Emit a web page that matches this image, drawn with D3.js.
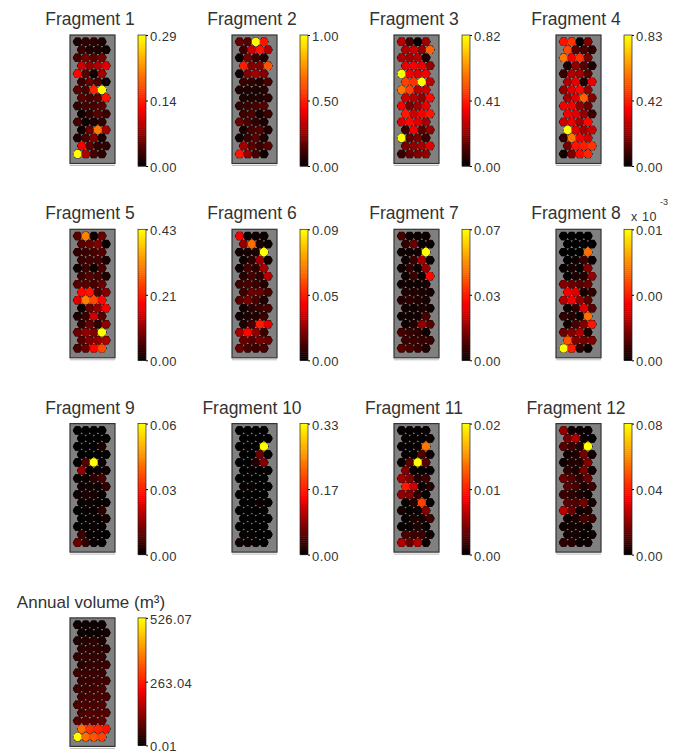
<!DOCTYPE html>
<html>
<head>
<meta charset="utf-8">
<script src="https://cdn.jsdelivr.net/npm/d3@7"></script>
<style>
  html, body { margin: 0; padding: 0; background: #fff; }
  svg { display: block; }
  text { font-family: "Liberation Sans", Arial, sans-serif; fill: #333; }
  .title { font-size: 17.5px; text-anchor: middle; }
  .axis text { font-size: 13px; letter-spacing: 0.4px; fill: #333; }
</style>
</head>
<body>
<div id="chart"></div>
<script>
// values are % of each panel's colour bar, 4 cells per row, 15 rows top to bottom
var titles = ['Fragment 1', 'Fragment 2', 'Fragment 3', 'Fragment 4', 'Fragment 5', 'Fragment 6', 'Fragment 7',
  'Fragment 8', 'Fragment 9', 'Fragment 10', 'Fragment 11', 'Fragment 12', 'Annual volume (m\u00b3)'];

var tickLabels = [
  ['0.00', '0.14', '0.29'], ['0.00', '0.50', '1.00'], ['0.00', '0.41', '0.82'], ['0.00', '0.42', '0.83'],
  ['0.00', '0.21', '0.43'], ['0.00', '0.05', '0.09'], ['0.00', '0.03', '0.07'], ['0.00', '0.00', '0.01'],
  ['0.00', '0.03', '0.06'], ['0.00', '0.17', '0.33'], ['0.00', '0.01', '0.02'], ['0.00', '0.04', '0.08'],
  ['0.01', '263.04', '526.07']
];

var fragment1 = [5, 8, 8, 5, 10, 5, 5, 3, 12, 20, 15, 20, 35, 25, 30, 38, 45, 15, 3, 28,
  10, 18, 12, 2, 15, 12, 52, 100, 15, 12, 15, 48, 8, 12, 12, 15, 3, 8, 15, 10,
  12, 3, 5, 8, 3, 18, 70, 28, 5, 12, 22, 5, 42, 15, 8, 8, 100, 30, 12, 8];
var fragment2 = [18, 15, 100, 48, 10, 35, 48, 30, 2, 20, 10, 6, 50, 22, 22, 62, 3, 22, 28, 22,
  10, 8, 6, 12, 5, 6, 5, 7, 5, 5, 6, 7, 8, 10, 12, 15, 10, 13, 4, 10,
  18, 13, 8, 5, 4, 12, 14, 5, 3, 10, 15, 5, 28, 15, 10, 15, 48, 25, 12, 3];
var fragment3 = [32, 12, 0, 28, 30, 35, 25, 65, 30, 28, 32, 5, 40, 42, 40, 25, 100, 42, 38, 42,
  58, 55, 100, 32, 70, 58, 32, 35, 35, 30, 25, 45, 42, 20, 28, 40, 50, 35, 42, 48,
  38, 45, 38, 28, 10, 42, 15, 25, 100, 15, 20, 10, 20, 25, 28, 38, 10, 18, 22, 25];
var fragment4 = [48, 55, 0, 22, 60, 15, 12, 8, 70, 42, 55, 20, 5, 25, 15, 5, 10, 30, 28, 15,
  30, 40, 5, 40, 25, 38, 45, 25, 28, 38, 65, 22, 42, 42, 25, 18, 42, 38, 25, 10,
  35, 40, 28, 45, 100, 38, 28, 35, 8, 70, 42, 35, 20, 48, 50, 55, 3, 22, 45, 52];
var fragment5 = [15, 72, 2, 18, 15, 18, 22, 2, 8, 10, 12, 15, 10, 12, 12, 5, 2, 10, 3, 12,
  10, 15, 12, 5, 15, 15, 12, 18, 45, 48, 12, 22, 38, 72, 60, 45, 2, 18, 25, 42,
  5, 10, 35, 15, 8, 18, 8, 25, 18, 25, 22, 100, 15, 22, 25, 30, 12, 18, 45, 60];
var fragment6 = [42, 2, 2, 2, 25, 68, 5, 2, 3, 4, 5, 100, 2, 8, 28, 3, 2, 12, 8, 28,
  6, 12, 8, 32, 10, 12, 10, 6, 10, 18, 18, 12, 15, 20, 12, 5, 2, 8, 10, 12,
  3, 5, 6, 10, 5, 12, 50, 38, 28, 45, 25, 10, 18, 15, 20, 18, 18, 12, 10, 12];
var fragment7 = [12, 2, 2, 2, 8, 18, 2, 2, 2, 2, 3, 100, 2, 10, 28, 2, 2, 8, 2, 25,
  2, 10, 3, 45, 3, 3, 3, 4, 5, 6, 5, 4, 6, 8, 6, 4, 3, 3, 5, 3,
  3, 3, 3, 12, 2, 6, 25, 15, 12, 10, 8, 3, 10, 10, 10, 10, 15, 12, 10, 5];
var fragment8 = [0, 0, 0, 0, 0, 0, 0, 0, 0, 0, 0, 68, 0, 3, 10, 2, 1, 4, 2, 22,
  0, 5, 5, 25, 22, 18, 15, 18, 42, 38, 4, 8, 30, 42, 25, 15, 2, 8, 38, 15,
  8, 6, 2, 68, 3, 12, 22, 48, 18, 22, 30, 5, 62, 22, 20, 22, 100, 50, 8, 2];
var fragment9 = [0, 0, 0, 0, 0, 0, 0, 0, 0, 0, 0, 5, 0, 0, 0, 0, 0, 14, 100, 2,
  25, 1, 2, 2, 1, 2, 8, 12, 2, 3, 2, 8, 2, 5, 4, 1, 1, 2, 1, 1,
  0, 1, 1, 8, 0, 1, 1, 3, 0, 1, 2, 1, 10, 1, 1, 0, 18, 8, 1, 1];
var fragment10 = [0, 0, 0, 0, 0, 0, 0, 0, 0, 0, 0, 100, 0, 0, 18, 0, 0, 0, 6, 22,
  0, 1, 0, 0, 0, 0, 0, 0, 1, 1, 0, 0, 0, 0, 0, 0, 0, 0, 2, 0,
  0, 0, 0, 1, 0, 0, 0, 0, 0, 0, 0, 0, 1, 1, 0, 0, 3, 1, 1, 0];
var fragment11 = [1, 1, 1, 1, 1, 1, 1, 3, 1, 1, 1, 70, 1, 1, 14, 2, 1, 15, 100, 15,
  22, 1, 1, 1, 28, 22, 6, 10, 50, 35, 2, 6, 25, 22, 8, 1, 1, 6, 58, 1,
  4, 1, 1, 22, 1, 5, 4, 10, 1, 1, 6, 1, 12, 10, 10, 3, 30, 18, 30, 2];
var fragment12 = [25, 2, 2, 1, 20, 30, 2, 1, 15, 10, 6, 100, 3, 5, 20, 3, 3, 6, 6, 22,
  8, 5, 20, 3, 18, 14, 8, 18, 15, 12, 5, 10, 10, 8, 5, 2, 15, 14, 20, 4,
  32, 18, 3, 5, 2, 5, 12, 10, 2, 3, 3, 1, 4, 4, 1, 2, 8, 6, 2, 2];
var annualVolume = [2, 2, 2, 2, 2, 2, 2, 4, 5, 7, 8, 5, 8, 8, 8, 7, 8, 9, 9, 9,
  7, 9, 9, 10, 10, 10, 10, 10, 9, 10, 11, 11, 10, 10, 11, 13, 11, 12, 12, 12,
  13, 13, 13, 14, 12, 15, 14, 15, 14, 15, 14, 16, 68, 55, 52, 48, 100, 68, 62, 58];

var datasets = [fragment1, fragment2, fragment3, fragment4, fragment5, fragment6, fragment7,
  fragment8, fragment9, fragment10, fragment11, fragment12, annualVolume];

var w = 678,
  h = 754,
  panelW = 45,
  panelH = 128.5,
  barW = 8,
  colStep = 162,
  rowStep = 194.3,
  cellR = 4.45;

var svg = d3.select('#chart').append('svg').attr('width', w).attr('height', h);

var colorScale = d3.scaleLinear().domain([0, 44, 100]).range(['#000000', '#ff0000', '#ffff00']);
var colX = d3.scaleLinear().domain([0, 3]).range([7.6, 7.6 + 3 * 8.1]);
var rowY = d3.scaleLinear().domain([0, 14]).range([6.8, 119]);

// the cells come out of the original as rounded hexagons, an 8-gon is closer than a true hex
function polygon(r, sides) {
  return d3.line()(d3.range(sides).map(function(i) {
    var a = 2 * Math.PI * (i + 0.5) / sides;
    return [r * Math.sin(a), -r * Math.cos(a)];
  })) + 'Z';
}

function cellTransform(d, i) {
  var row = Math.floor(i / 4);
  return 'translate(' + (colX(i % 4) + (row % 2) * 4.05) + ',' + rowY(row) + ')';
}

datasets.forEach(function(values, n) {
  var g = svg.append('g')
    .attr('transform', 'translate(' + (70 + (n % 4) * colStep) + ',' + (35 + Math.floor(n / 4) * rowStep) + ')');

  // last row has less room at the bottom of the page, its bar is a little shorter
  var barH = n === 12 ? 127.5 : 131;
  var barY = d3.scaleLinear().domain([0, 100]).range([barH, 0]);

  g.append('text').attr('class', 'title')
    .attr('x', n === 12 ? 21 : 20).attr('y', -10)
    .style('font-size', n === 12 ? '17px' : null)
    .text(titles[n]);

  g.append('rect')
    .attr('width', panelW).attr('height', panelH)
    .attr('fill', '#808080').attr('stroke', '#333').attr('stroke-width', 1.2);

  g.append('path')
    .attr('d', 'M0,' + (panelH + 2) + 'H' + panelW)
    .attr('stroke', '#bbb').attr('fill', 'none');

  // black backing so the gaps between cells stay dark
  g.selectAll('path.back')
    .data(values)
    .enter()
    .append('path')
    .attr('class', 'back')
    .attr('d', polygon(4.9, 6))
    .attr('transform', cellTransform)
    .attr('fill', '#000');

  g.selectAll('path.cell')
    .data(values)
    .enter()
    .append('path')
    .attr('class', 'cell')
    .attr('d', polygon(cellR, 8))
    .attr('transform', cellTransform)
    .attr('fill', function(d) { return colorScale(d); });

  // colour bar, 64 steps like the original colormap
  var bar = g.append('g').attr('transform', 'translate(68,0)');
  bar.selectAll('rect')
    .data(d3.range(64))
    .enter()
    .append('rect')
    .attr('x', 0)
    .attr('y', function(d) { return barY((d + 1) / 64 * 100); })
    .attr('width', barW)
    .attr('height', barH / 64 + 0.5)
    .attr('fill', function(d) { return colorScale((d + 0.5) / 64 * 100); });
  bar.append('rect')
    .attr('width', barW).attr('height', barH)
    .attr('fill', 'none').attr('stroke', '#222').attr('stroke-width', 0.7);

  var axis = d3.axisRight(barY)
    .tickValues([0, 50, 100])
    .tickSize(2)
    .tickPadding(2)
    .tickFormat(function(d) { return tickLabels[n][d / 50]; });
  bar.append('g')
    .attr('class', 'axis')
    .attr('transform', 'translate(' + barW + ',0)')
    .call(axis)
    .call(function(sel) { sel.select('.domain').remove(); })
    .selectAll('text').attr('dy', '0.42em');
});

// exponent of the Fragment 8 colour bar
svg.append('text').attr('x', 631).attr('y', 221).attr('font-size', 12.5).attr('letter-spacing', 0.6).text('x 10');
svg.append('text').attr('x', 660).attr('y', 205).attr('font-size', 9).text('-3');
</script>
</body>
</html>
